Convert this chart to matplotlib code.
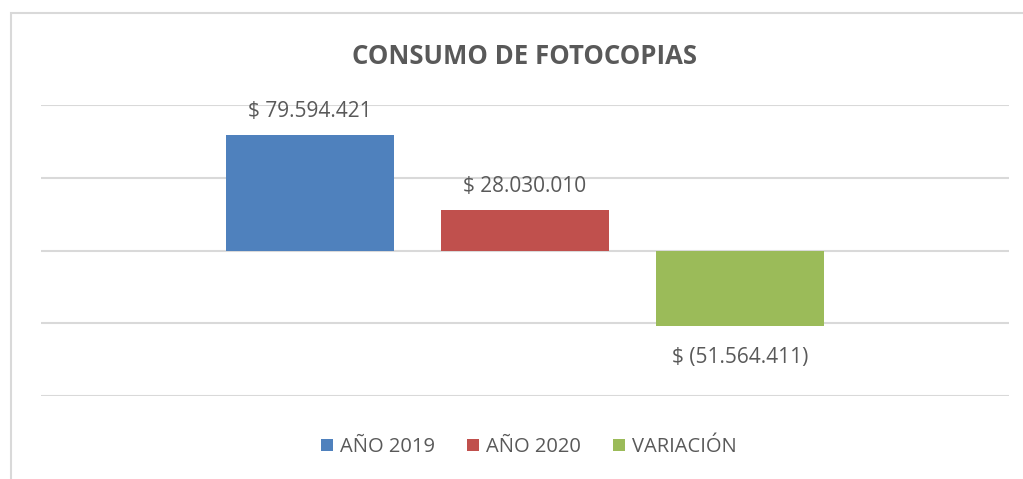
import matplotlib.pyplot as plt
from matplotlib.patches import Rectangle

series = ["AÑO 2019", "AÑO 2020", "VARIACIÓN"]
valores = [79594421, 28030010, -51564411]
etiquetas = ["$ 79.594.421", "$ 28.030.010", "$ (51.564.411)"]
colores = ["#4F81BD", "#C0504D", "#9BBB59"]

plt.rcParams['font.family'] = ['Open Sans', 'DejaVu Sans']
gris = "#595959"

fig = plt.figure(figsize=(10.23, 4.79), dpi=100)

# marco del grafico (recortado a la derecha y abajo)
fig.patches.append(Rectangle((11 / 1023, -0.05), 1.1, 1 - 13 / 479 + 0.05,
                             transform=fig.transFigure, fill=False,
                             edgecolor="#d9d9d9", linewidth=1.5))

ax = fig.add_axes([41 / 1023, 1 - 396 / 479, 968 / 1023, 291 / 479])

x = range(len(series))
barras = ax.bar(x, valores, width=0.78, color=colores, label=series, zorder=3)

for xi, v, txt in zip(x, valores, etiquetas):
    if v >= 0:
        ax.annotate(txt, (xi, v), xytext=(0, 23), textcoords="offset pixels",
                    ha="center", va="center", fontsize=15, color=gris)
    else:
        ax.annotate(txt, (xi, v), xytext=(0, -32), textcoords="offset pixels",
                    ha="center", va="center", fontsize=15, color=gris)

ax.set_xlim(-1.251, 3.251)
ax.set_ylim(-100e6, 100e6)
ax.set_yticks([-100e6, -50e6, 0, 50e6, 100e6])
ax.yaxis.grid(True, color="#d9d9d9", linewidth=1.5, zorder=0)
ax.tick_params(left=False, bottom=False, labelleft=False, labelbottom=False)
for s in ax.spines.values():
    s.set_visible(False)

fig.text(525 / 1023, 1 - 57 / 479, "CONSUMO DE FOTOCOPIAS", ha="center",
         va="center", fontsize=18.5, fontweight="bold", color=gris)

fig.legend(handles=barras, labels=series, loc="center",
           bbox_to_anchor=(529 / 1023, 1 - 447 / 479), ncol=3, frameon=False,
           fontsize=14.5, labelcolor=gris, handlelength=0.6, handleheight=0.6,
           handletextpad=0.35, columnspacing=1.6)

fig.savefig("out.png", dpi=100)
